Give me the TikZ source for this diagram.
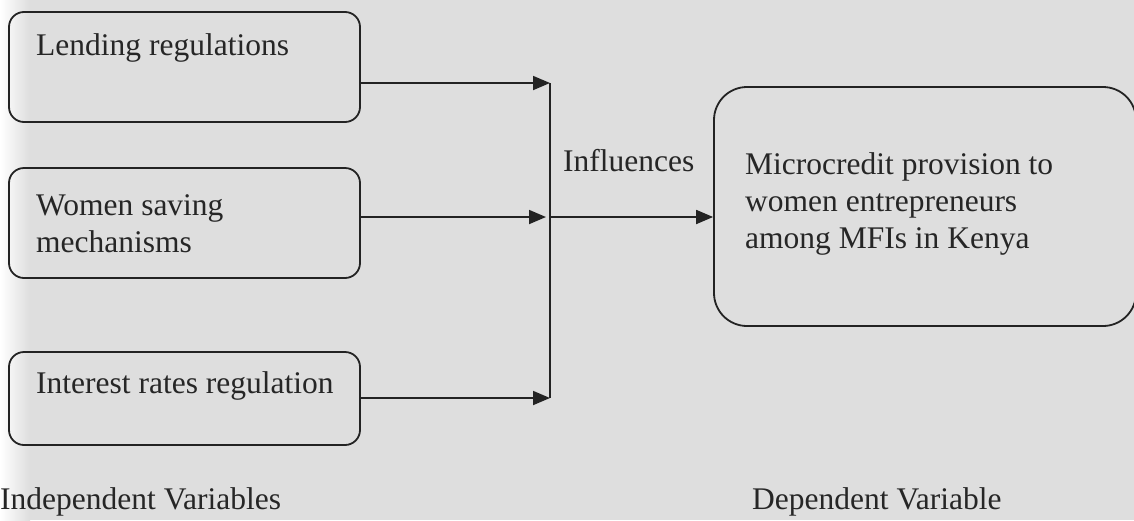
\documentclass[tikz,border=0pt]{standalone}
\usepackage{fontspec}
\setmainfont{Liberation Serif}
\usetikzlibrary{arrows.meta}
\definecolor{bgc}{RGB}{222,222,222}
\definecolor{linec}{RGB}{35,35,35}
\definecolor{textc}{RGB}{38,38,38}
\begin{document}
\begin{tikzpicture}[x=1pt,y=-1pt,
  box/.style={draw=linec, line width=1.8pt, rounded corners=15pt, inner sep=0pt},
  txt/.style={anchor=west, inner sep=0pt, text=textc, align=left, font=\fontsize{31.5}{37}\selectfont},
  arr/.style={draw=linec, line width=1.8pt, -{Triangle[length=17pt,width=14pt]}},
  ln/.style={draw=linec, line width=1.8pt}]
\useasboundingbox (0,0) rectangle (1134,520);
\fill[bgc] (0,0) rectangle (1134,520);
\shade[left color=white, right color=bgc] (0,0) rectangle (30,520);
% boxes
\node[box, minimum width=351pt, minimum height=110pt] (b1) at (184.5,67) {};
\node[box, minimum width=351pt, minimum height=110pt] (b2) at (184.5,223) {};
\node[box, minimum width=351pt, minimum height=93pt] (b3) at (184.5,398.5) {};
\node[box, rounded corners=33pt, minimum width=422pt, minimum height=239pt] (rb) at (925,206.5) {};
% texts
\node[txt] (t1) at (36,48) {Lending regulations};
\node[txt] (t2) at (36,224) {Women saving\\mechanisms};
\node[txt] (t3) at (36,386) {Interest rates regulation};
\node[txt] (tr) at (745,204) {Microcredit provision to\\women entrepreneurs\\among MFIs in Kenya};
\node[txt] (inf) at (563,161) {Influences};
\node[txt] (iv) at (0,502) {Independent Variables};
\node[txt] (dv) at (752,502) {Dependent Variable};
% connectors
\coordinate (j1) at (550,83);
\coordinate (j2) at (546,217);
\coordinate (j2b) at (549,217);
\coordinate (j3) at (550,398);
\draw[arr] (b1.east |- j1) -- (j1);
\draw[arr] (b2.east |- j2) -- (j2);
\draw[arr] (b3.east |- j3) -- (j3);
\draw[ln] (j1) -- (j3);
\draw[arr] (j2b) -- (rb.west |- j2b);
\end{tikzpicture}
\end{document}
